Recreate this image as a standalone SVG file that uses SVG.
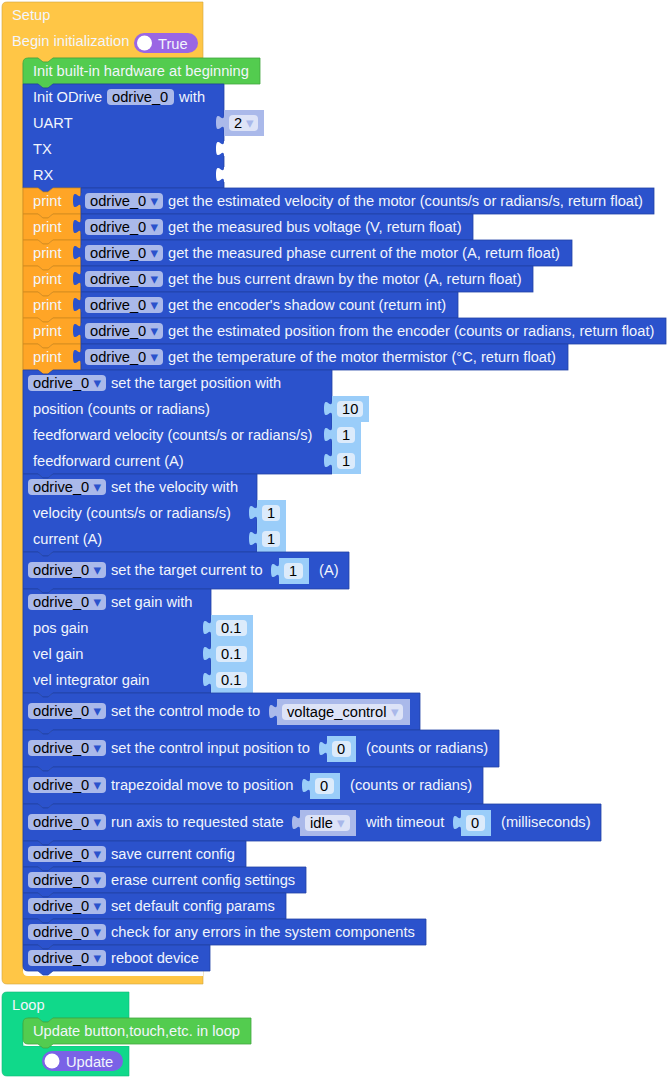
<svg xmlns="http://www.w3.org/2000/svg" width="672" height="1082" viewBox="0 0 672 1082">
<style>
text{font-family:"Liberation Sans",Arial,sans-serif;font-size:14.67px;fill:#f2f5fc}
.d{fill:#000}
.ar{font-family:"DejaVu Sans",sans-serif;font-size:15px;fill:#2b52cc}
.arl{font-family:"DejaVu Sans",sans-serif;font-size:15px;fill:#a9b8ea}
.b{fill:#2b52cc;stroke:#2142a5;stroke-width:.8}
.o{fill:#ffa526;stroke:#d08a20;stroke-width:.8}
.g{fill:#53cc4f;stroke:#43a63f;stroke-width:.8}
.chip{fill:#aab9ea}
.vg{fill:#aab9ea}
.vb{fill:#9acdf9}
.fg{fill:#dde3f7}
.fb{fill:#dcebfb}
.tg{fill:#aab9ea}
.tb{fill:#9acdf9}
.tw{fill:#fff}
.tp{fill:#2b52cc}
</style>
<defs>
<path id="tab" d="M1,0 H0 c0,10 -8,-8 -8,7.500 s8,-2.500 8,7.500 H1 Z"/>
</defs>

<g id="setup">
<path d="M7,2 H203 V58 H53 l-5,4 h-5 l-5,-4 H28 V63 H23 V971 H203 V984 H7 Q2,984 2,979 V7 Q2,2 7,2 Z" fill="#ffc646" stroke="#d2a53c" stroke-width="0.6"/>
<text x="12" y="20">Setup</text>
<text x="12" y="46">Begin initialization</text>
<rect x="134" y="33" width="64" height="20" rx="10" fill="#9a66e4"/>
<circle cx="144.500" cy="43" r="7.500" fill="#fff"/>
<text x="158" y="49">True</text>
</g>

<g id="hardware-init">
<path class="g" d="M28,58 Q23,58 23,63 V84 H38 l5,4 h5 l5,-4 H260 V58 H53 l-5,4 h-5 l-5,-4 Z"/>
<text x="33" y="76">Init built-in hardware at beginning</text>
</g>

<g id="init-odrive">
<path class="b" d="M23,84 H38 l5,4 h5 l5,-4 H224 V188 H53 l-5,4 h-5 l-5,-4 H23 Z"/>
<text x="33" y="102">Init ODrive</text>
<rect class="chip" x="107" y="89" width="67" height="16" rx="4"/>
<text class="d" x="112" y="102">odrive_0</text>
<text x="179" y="102">with</text>
<text x="33" y="128">UART</text>
<text x="33" y="154">TX</text>
<text x="33" y="180">RX</text>
<use href="#tab" class="tw" x="224" y="141"/>
<use href="#tab" class="tw" x="224" y="167"/>
<rect class="vg" x="224" y="110" width="40" height="26"/>
<use href="#tab" class="tg" x="224" y="115"/>
<rect class="fg" x="229" y="115" width="29" height="16" rx="4"/>
<text class="d" x="234" y="128">2</text>
<text class="arl" x="246" y="128">▾</text>
</g>

<g id="print-velocity">
<path class="o" d="M23,188 H38 l5,4 h5 l5,-4 H81 V214 H53 l-5,4 h-5 l-5,-4 H23 Z"/><text x="33" y="206">print</text>
<rect class="b" x="81" y="188" width="573" height="26"/><use href="#tab" class="tp" x="81" y="193"/>
<rect class="chip" x="85" y="193" width="78" height="16" rx="4"/><text class="d" x="90" y="206">odrive_0</text><text class="ar" x="150.500" y="206">▾</text>
<text x="168" y="206">get the estimated velocity of the motor (counts/s or radians/s, return float)</text>
</g>
<g id="print-voltage">
<path class="o" d="M23,214 H38 l5,4 h5 l5,-4 H81 V240 H53 l-5,4 h-5 l-5,-4 H23 Z"/><text x="33" y="232">print</text>
<rect class="b" x="81" y="214" width="392" height="26"/><use href="#tab" class="tp" x="81" y="219"/>
<rect class="chip" x="85" y="219" width="78" height="16" rx="4"/><text class="d" x="90" y="232">odrive_0</text><text class="ar" x="150.500" y="232">▾</text>
<text x="168" y="232">get the measured bus voltage (V, return float)</text>
</g>
<g id="print-phase">
<path class="o" d="M23,240 H38 l5,4 h5 l5,-4 H81 V266 H53 l-5,4 h-5 l-5,-4 H23 Z"/><text x="33" y="258">print</text>
<rect class="b" x="81" y="240" width="491" height="26"/><use href="#tab" class="tp" x="81" y="245"/>
<rect class="chip" x="85" y="245" width="78" height="16" rx="4"/><text class="d" x="90" y="258">odrive_0</text><text class="ar" x="150.500" y="258">▾</text>
<text x="168" y="258">get the measured phase current of the motor (A, return float)</text>
</g>
<g id="print-bus">
<path class="o" d="M23,266 H38 l5,4 h5 l5,-4 H81 V292 H53 l-5,4 h-5 l-5,-4 H23 Z"/><text x="33" y="284">print</text>
<rect class="b" x="81" y="266" width="452" height="26"/><use href="#tab" class="tp" x="81" y="271"/>
<rect class="chip" x="85" y="271" width="78" height="16" rx="4"/><text class="d" x="90" y="284">odrive_0</text><text class="ar" x="150.500" y="284">▾</text>
<text x="168" y="284">get the bus current drawn by the motor (A, return float)</text>
</g>
<g id="print-shadow">
<path class="o" d="M23,292 H38 l5,4 h5 l5,-4 H81 V318 H53 l-5,4 h-5 l-5,-4 H23 Z"/><text x="33" y="310">print</text>
<rect class="b" x="81" y="292" width="377" height="26"/><use href="#tab" class="tp" x="81" y="297"/>
<rect class="chip" x="85" y="297" width="78" height="16" rx="4"/><text class="d" x="90" y="310">odrive_0</text><text class="ar" x="150.500" y="310">▾</text>
<text x="168" y="310">get the encoder's shadow count (return int)</text>
</g>
<g id="print-position">
<path class="o" d="M23,318 H38 l5,4 h5 l5,-4 H81 V344 H53 l-5,4 h-5 l-5,-4 H23 Z"/><text x="33" y="336">print</text>
<rect class="b" x="81" y="318" width="585" height="26"/><use href="#tab" class="tp" x="81" y="323"/>
<rect class="chip" x="85" y="323" width="78" height="16" rx="4"/><text class="d" x="90" y="336">odrive_0</text><text class="ar" x="150.500" y="336">▾</text>
<text x="168" y="336">get the estimated position from the encoder (counts or radians, return float)</text>
</g>
<g id="print-temp">
<path class="o" d="M23,344 H38 l5,4 h5 l5,-4 H81 V370 H53 l-5,4 h-5 l-5,-4 H23 Z"/><text x="33" y="362">print</text>
<rect class="b" x="81" y="344" width="487" height="26"/><use href="#tab" class="tp" x="81" y="349"/>
<rect class="chip" x="85" y="349" width="78" height="16" rx="4"/><text class="d" x="90" y="362">odrive_0</text><text class="ar" x="150.500" y="362">▾</text>
<text x="168" y="362">get the temperature of the motor thermistor (°C, return float)</text>
</g>

<g id="set-position">
<path class="b" d="M23,370 H38 l5,4 h5 l5,-4 H332 V474 H53 l-5,4 h-5 l-5,-4 H23 Z"/>
<rect class="chip" x="28" y="375" width="78" height="16" rx="4"/><text class="d" x="33" y="388">odrive_0</text><text class="ar" x="93.500" y="388">▾</text>
<text x="111" y="388">set the target position with</text>
<text x="33" y="414">position (counts or radians)</text>
<text x="33" y="440">feedforward velocity (counts/s or radians/s)</text>
<text x="33" y="466">feedforward current (A)</text>
<rect class="vb" x="332" y="396" width="37" height="26"/><use href="#tab" class="tb" x="332" y="401"/><rect class="fb" x="337" y="401" width="26" height="16" rx="4"/><text class="d" x="342" y="414">10</text>
<rect class="vb" x="332" y="422" width="29" height="26"/><use href="#tab" class="tb" x="332" y="427"/><rect class="fb" x="337" y="427" width="18" height="16" rx="4"/><text class="d" x="342" y="440">1</text>
<rect class="vb" x="332" y="448" width="29" height="26"/><use href="#tab" class="tb" x="332" y="453"/><rect class="fb" x="337" y="453" width="18" height="16" rx="4"/><text class="d" x="342" y="466">1</text>
</g>

<g id="set-velocity">
<path class="b" d="M23,474 H38 l5,4 h5 l5,-4 H257 V552 H53 l-5,4 h-5 l-5,-4 H23 Z"/>
<rect class="chip" x="28" y="479" width="78" height="16" rx="4"/><text class="d" x="33" y="492">odrive_0</text><text class="ar" x="93.500" y="492">▾</text>
<text x="111" y="492">set the velocity with</text>
<text x="33" y="518">velocity (counts/s or radians/s)</text>
<text x="33" y="544">current (A)</text>
<rect class="vb" x="257" y="500" width="29" height="26"/><use href="#tab" class="tb" x="257" y="505"/><rect class="fb" x="262" y="505" width="18" height="16" rx="4"/><text class="d" x="267" y="518">1</text>
<rect class="vb" x="257" y="526" width="29" height="26"/><use href="#tab" class="tb" x="257" y="531"/><rect class="fb" x="262" y="531" width="18" height="16" rx="4"/><text class="d" x="267" y="544">1</text>
</g>

<g id="set-current">
<path class="b" d="M23,552 H38 l5,4 h5 l5,-4 H349 V589 H53 l-5,4 h-5 l-5,-4 H23 Z"/>
<rect class="chip" x="28" y="562" width="78" height="16" rx="4"/><text class="d" x="33" y="575">odrive_0</text><text class="ar" x="93.500" y="575">▾</text>
<text x="111" y="575">set the target current to</text>
<rect class="vb" x="279" y="558" width="30" height="26"/><use href="#tab" class="tb" x="279" y="563"/><rect class="fb" x="284" y="563" width="19" height="16" rx="4"/><text class="d" x="289" y="576">1</text>
<text x="319" y="575">(A)</text>
</g>

<g id="set-gain">
<path class="b" d="M23,589 H38 l5,4 h5 l5,-4 H211 V693 H53 l-5,4 h-5 l-5,-4 H23 Z"/>
<rect class="chip" x="28" y="594" width="78" height="16" rx="4"/><text class="d" x="33" y="607">odrive_0</text><text class="ar" x="93.500" y="607">▾</text>
<text x="111" y="607">set gain with</text>
<text x="33" y="633">pos gain</text>
<text x="33" y="659">vel gain</text>
<text x="33" y="685">vel integrator gain</text>
<rect class="vb" x="211" y="615" width="42" height="26"/><use href="#tab" class="tb" x="211" y="620"/><rect class="fb" x="216" y="620" width="31" height="16" rx="4"/><text class="d" x="221" y="633">0.1</text>
<rect class="vb" x="211" y="641" width="42" height="26"/><use href="#tab" class="tb" x="211" y="646"/><rect class="fb" x="216" y="646" width="31" height="16" rx="4"/><text class="d" x="221" y="659">0.1</text>
<rect class="vb" x="211" y="667" width="42" height="26"/><use href="#tab" class="tb" x="211" y="672"/><rect class="fb" x="216" y="672" width="31" height="16" rx="4"/><text class="d" x="221" y="685">0.1</text>
</g>

<g id="control-mode">
<path class="b" d="M23,693 H38 l5,4 h5 l5,-4 H420 V730 H53 l-5,4 h-5 l-5,-4 H23 Z"/>
<rect class="chip" x="28" y="703" width="78" height="16" rx="4"/><text class="d" x="33" y="716">odrive_0</text><text class="ar" x="93.500" y="716">▾</text>
<text x="111" y="716">set the control mode to</text>
<rect class="vg" x="277" y="699" width="133" height="26"/><use href="#tab" class="tg" x="277" y="704"/><rect class="fg" x="282" y="704" width="121" height="16" rx="4"/><text class="d" x="287" y="717">voltage_control</text><text class="arl" x="391" y="717">▾</text>
</g>

<g id="input-position">
<path class="b" d="M23,730 H38 l5,4 h5 l5,-4 H499 V767 H53 l-5,4 h-5 l-5,-4 H23 Z"/>
<rect class="chip" x="28" y="740" width="78" height="16" rx="4"/><text class="d" x="33" y="753">odrive_0</text><text class="ar" x="93.500" y="753">▾</text>
<text x="111" y="753">set the control input position to</text>
<rect class="vb" x="327" y="736" width="29" height="26"/><use href="#tab" class="tb" x="327" y="741"/><rect class="fb" x="332" y="741" width="19" height="16" rx="4"/><text class="d" x="337" y="754">0</text>
<text x="366" y="753">(counts or radians)</text>
</g>

<g id="trapezoidal">
<path class="b" d="M23,767 H38 l5,4 h5 l5,-4 H483 V804 H53 l-5,4 h-5 l-5,-4 H23 Z"/>
<rect class="chip" x="28" y="777" width="78" height="16" rx="4"/><text class="d" x="33" y="790">odrive_0</text><text class="ar" x="93.500" y="790">▾</text>
<text x="111" y="790">trapezoidal move to position</text>
<rect class="vb" x="310" y="773" width="30" height="26"/><use href="#tab" class="tb" x="310" y="778"/><rect class="fb" x="315" y="778" width="19" height="16" rx="4"/><text class="d" x="320" y="791">0</text>
<text x="350" y="790">(counts or radians)</text>
</g>

<g id="run-axis">
<path class="b" d="M23,804 H38 l5,4 h5 l5,-4 H601 V841 H53 l-5,4 h-5 l-5,-4 H23 Z"/>
<rect class="chip" x="28" y="814" width="78" height="16" rx="4"/><text class="d" x="33" y="827">odrive_0</text><text class="ar" x="93.500" y="827">▾</text>
<text x="111" y="827">run axis to requested state</text>
<rect class="vg" x="300" y="810" width="56" height="26"/><use href="#tab" class="tg" x="300" y="815"/><rect class="fg" x="305" y="815" width="45" height="16" rx="4"/><text class="d" x="310" y="828">idle</text><text class="arl" x="337" y="828">▾</text>
<text x="366" y="827">with timeout</text>
<rect class="vb" x="461" y="810" width="30" height="26"/><use href="#tab" class="tb" x="461" y="815"/><rect class="fb" x="466" y="815" width="19" height="16" rx="4"/><text class="d" x="471" y="828">0</text>
<text x="501" y="827">(milliseconds)</text>
</g>

<g id="save-config">
<path class="b" d="M23,841 H38 l5,4 h5 l5,-4 H246 V867 H53 l-5,4 h-5 l-5,-4 H23 Z"/>
<rect class="chip" x="28" y="846" width="78" height="16" rx="4"/><text class="d" x="33" y="859">odrive_0</text><text class="ar" x="93.500" y="859">▾</text>
<text x="111" y="859">save current config</text>
</g>
<g id="erase-config">
<path class="b" d="M23,867 H38 l5,4 h5 l5,-4 H306 V893 H53 l-5,4 h-5 l-5,-4 H23 Z"/>
<rect class="chip" x="28" y="872" width="78" height="16" rx="4"/><text class="d" x="33" y="885">odrive_0</text><text class="ar" x="93.500" y="885">▾</text>
<text x="111" y="885">erase current config settings</text>
</g>
<g id="default-config">
<path class="b" d="M23,893 H38 l5,4 h5 l5,-4 H286 V919 H53 l-5,4 h-5 l-5,-4 H23 Z"/>
<rect class="chip" x="28" y="898" width="78" height="16" rx="4"/><text class="d" x="33" y="911">odrive_0</text><text class="ar" x="93.500" y="911">▾</text>
<text x="111" y="911">set default config params</text>
</g>
<g id="check-errors">
<path class="b" d="M23,919 H38 l5,4 h5 l5,-4 H426 V945 H53 l-5,4 h-5 l-5,-4 H23 Z"/>
<rect class="chip" x="28" y="924" width="78" height="16" rx="4"/><text class="d" x="33" y="937">odrive_0</text><text class="ar" x="93.500" y="937">▾</text>
<text x="111" y="937">check for any errors in the system components</text>
</g>
<g id="reboot">
<path d="M23,968 V971 Q23,976 28,976 H203 V971 H28 Z" fill="#fff"/>
<path class="b" d="M23,945 H38 l5,4 h5 l5,-4 H210 V971 H53 l-5,4 h-5 l-5,-4 H28 Q23,971 23,966 Z"/>
<rect class="chip" x="28" y="950" width="78" height="16" rx="4"/><text class="d" x="33" y="963">odrive_0</text><text class="ar" x="93.500" y="963">▾</text>
<text x="111" y="963">reboot device</text>
</g>

<g id="loop">
<path d="M7,992 H129 V1018 H53 l-5,4 h-5 l-5,-4 H28 V1023 H23 V1046 H129 V1076 H7 Q2,1076 2,1071 V997 Q2,992 7,992 Z" fill="#10d98a" stroke="#0fb877" stroke-width="0.6"/>
<path d="M23,1040 V1041 Q23,1046 28,1046 H129 V1044 H28 Z" fill="#fff"/>
<text x="12" y="1010">Loop</text>
<rect x="42" y="1051" width="81" height="20" rx="10" fill="#7a62e6"/>
<circle cx="52" cy="1061" r="7.500" fill="#fff"/>
<text x="66" y="1067">Update</text>
</g>
<g id="loop-update">
<path class="g" d="M28,1018 Q23,1018 23,1023 V1039 Q23,1044 28,1044 H38 l5,4 h5 l5,-4 H251 V1018 H53 l-5,4 h-5 l-5,-4 Z"/>
<text x="33" y="1036">Update button,touch,etc. in loop</text>
</g>
</svg>
